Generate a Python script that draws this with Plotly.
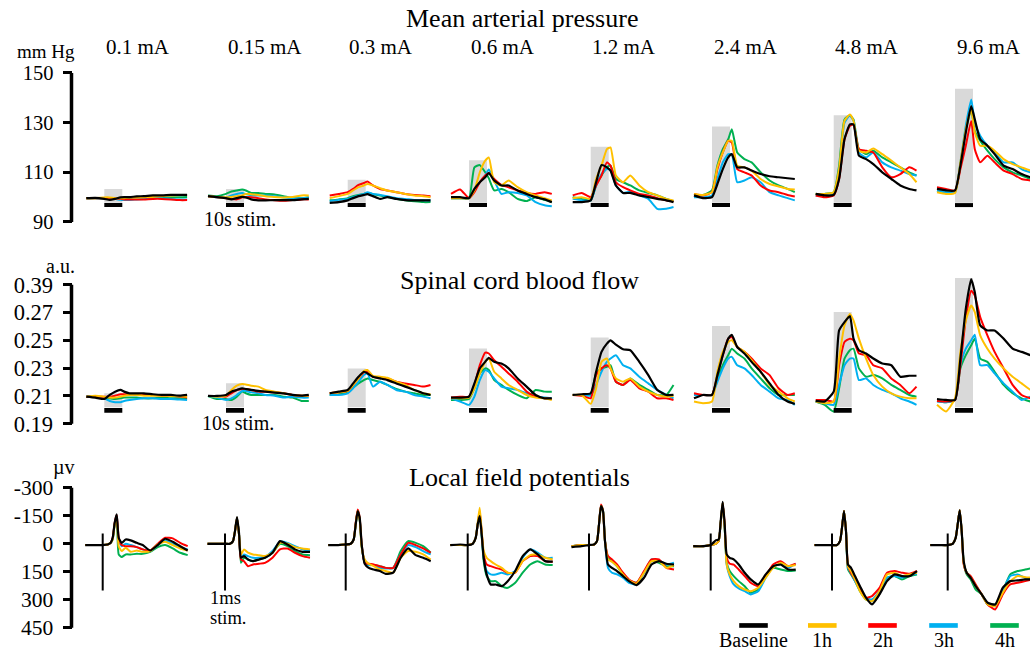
import plotly.graph_objects as go

W, H = 1030, 654
FONT = "Liberation Serif"

# ---------------- data ----------------
currents = ["0.1 mA", "0.15 mA", "0.3 mA", "0.6 mA", "1.2 mA", "2.4 mA", "4.8 mA", "9.6 mA"]
series_names = ["Baseline", "1h", "2h", "3h", "4h"]
series_colors = ["#000000", "#FFC000", "#FF0000", "#00B0F0", "#00B050"]

# Mean arterial pressure (mm Hg), time in s relative to stimulus onset
map_time_s = [-10, -5, 0, 3, 6, 9, 11, 14, 18, 22, 27, 32, 37, 42, 46]
map_baseline = [
    [99.6, 99.7, 99.3, 98.9, 99.3, 99.9, 100.0, 100.0, 100.3, 100.4, 100.7, 100.7, 100.9, 100.9, 100.9],
    [100.4, 100.0, 99.6, 99.1, 99.6, 100.1, 99.9, 99.1, 98.7, 98.7, 98.8, 98.8, 98.8, 99.1, 99.3],
    [97.7, 98.0, 98.7, 99.6, 100.4, 100.9, 101.2, 100.4, 99.3, 100.0, 99.3, 98.8, 98.7, 98.7, 98.7],
    [100.0, 100.0, 99.6, 103.3, 106.0, 108.0, 109.7, 106.7, 104.7, 104.7, 102.7, 101.3, 100.0, 99.1, 98.0],
    [98.0, 98.0, 98.7, 106.0, 112.9, 112.0, 110.7, 104.7, 101.7, 101.7, 100.7, 100.0, 99.3, 98.7, 98.0],
    [100.7, 99.6, 100.0, 105.3, 111.3, 116.0, 117.3, 112.0, 112.0, 110.7, 109.3, 108.4, 108.0, 107.6, 107.3],
    [101.3, 100.7, 100.9, 107.3, 123.3, 129.3, 129.3, 116.7, 115.3, 113.3, 110.0, 107.3, 104.7, 103.3, 102.7],
    [103.3, 102.7, 102.7, 112.7, 126.0, 136.7, 131.3, 123.3, 120.7, 117.3, 112.7, 111.3, 109.3, 108.0, 107.3],
]
map_1h = [
    [99.6, 99.6, 99.9, 99.9, 99.6, 99.6, 99.6, 99.9, 99.9, 100.0, 100.1, 100.4, 100.7, 100.9, 100.9],
    [100.4, 100.1, 100.0, 100.1, 100.4, 100.7, 101.3, 101.2, 100.9, 100.4, 100.1, 99.9, 100.1, 100.7, 100.7],
    [99.6, 100.4, 101.3, 102.7, 104.0, 104.7, 105.3, 104.7, 103.6, 102.7, 102.0, 101.3, 100.7, 100.4, 100.0],
    [99.6, 99.6, 99.6, 102.7, 110.0, 114.7, 116.0, 106.0, 104.7, 106.7, 104.0, 102.0, 100.7, 99.6, 98.7],
    [99.6, 100.0, 99.3, 107.3, 112.7, 119.3, 120.0, 108.7, 106.0, 108.7, 104.7, 102.0, 100.7, 99.3, 98.7],
    [101.3, 100.9, 102.0, 112.0, 118.0, 122.7, 122.7, 112.7, 112.0, 110.7, 107.3, 105.3, 104.3, 103.3, 103.1],
    [101.3, 101.3, 102.0, 111.3, 130.7, 133.3, 130.7, 118.7, 118.0, 119.6, 117.3, 114.7, 112.0, 109.3, 106.0],
    [102.0, 101.3, 101.7, 114.0, 127.3, 135.3, 126.0, 120.7, 120.7, 118.7, 115.3, 113.3, 112.0, 110.7, 110.0],
]
map_2h = [
    [99.6, 99.6, 99.6, 99.6, 99.6, 99.3, 99.1, 99.1, 99.1, 99.1, 99.3, 99.3, 99.1, 98.8, 98.8],
    [100.4, 100.0, 99.6, 99.3, 99.1, 99.9, 100.0, 100.0, 99.6, 99.1, 98.7, 98.5, 98.8, 99.1, 99.1],
    [100.7, 101.3, 102.0, 103.3, 104.9, 105.7, 106.3, 104.7, 103.3, 102.7, 102.0, 101.3, 100.9, 100.7, 100.4],
    [101.3, 103.1, 99.6, 102.0, 106.0, 108.7, 109.7, 107.3, 104.9, 104.0, 102.7, 101.7, 101.3, 102.0, 101.3],
    [100.7, 101.7, 100.0, 104.7, 108.7, 114.0, 112.7, 106.0, 104.0, 102.7, 101.3, 100.7, 99.6, 98.7, 98.3],
    [101.3, 100.7, 102.0, 111.3, 118.0, 122.7, 122.0, 111.3, 110.0, 108.7, 104.7, 102.7, 102.0, 100.9, 100.3],
    [100.7, 100.0, 100.7, 107.3, 123.3, 128.7, 129.3, 119.3, 118.7, 118.0, 112.0, 108.0, 109.3, 112.0, 110.7],
    [104.0, 103.3, 102.7, 111.3, 120.7, 130.7, 119.3, 114.0, 116.7, 114.0, 110.7, 109.3, 107.3, 106.7, 106.0],
]
map_3h = [
    [99.6, 99.6, 99.6, 99.6, 99.3, 98.9, 98.9, 98.9, 99.1, 99.3, 99.6, 99.6, 99.3, 99.1, 99.1],
    [100.4, 100.0, 99.9, 100.7, 101.3, 101.7, 101.2, 100.7, 100.7, 100.7, 100.4, 99.9, 99.6, 99.6, 99.9],
    [98.4, 98.9, 99.3, 100.0, 100.7, 101.3, 102.0, 101.3, 100.9, 100.4, 99.6, 99.3, 98.9, 98.7, 98.7],
    [99.6, 99.6, 99.6, 102.7, 106.0, 108.7, 111.1, 106.7, 101.3, 102.0, 101.7, 100.7, 98.0, 96.7, 96.3],
    [99.3, 98.7, 98.7, 104.7, 109.3, 111.3, 110.9, 104.7, 101.7, 102.3, 100.7, 99.3, 95.3, 95.3, 96.0],
    [100.0, 100.0, 100.7, 107.3, 114.0, 117.3, 117.3, 106.0, 106.7, 108.0, 106.0, 102.0, 100.7, 99.6, 98.7],
    [100.7, 100.7, 101.3, 110.0, 130.0, 132.9, 130.7, 118.0, 116.0, 118.0, 114.0, 112.0, 110.7, 109.3, 108.7],
    [102.7, 102.0, 102.0, 114.0, 128.7, 139.3, 130.0, 124.7, 120.7, 118.0, 114.0, 114.0, 111.3, 110.0, 109.3],
]
map_4h = [
    [99.6, 99.6, 99.6, 99.6, 99.6, 99.6, 99.7, 99.7, 99.9, 99.9, 99.9, 99.9, 100.0, 100.0, 100.1],
    [100.7, 100.4, 101.3, 102.3, 102.7, 103.1, 102.7, 101.7, 101.7, 101.3, 101.1, 100.4, 99.6, 99.6, 100.0],
    [98.7, 99.1, 99.6, 100.4, 100.9, 101.3, 101.7, 101.2, 100.7, 100.0, 99.3, 98.7, 98.3, 98.0, 98.0],
    [99.6, 99.6, 99.6, 112.0, 112.9, 110.0, 107.6, 102.7, 103.3, 102.0, 99.3, 98.4, 100.0, 98.9, 98.0],
    [100.0, 99.3, 98.7, 104.7, 108.7, 112.0, 112.7, 107.3, 106.0, 104.7, 102.7, 101.7, 100.7, 99.3, 98.3],
    [100.7, 100.9, 102.7, 112.7, 119.3, 123.3, 127.3, 118.0, 115.3, 114.0, 110.0, 106.7, 104.7, 103.3, 102.0],
    [101.3, 101.3, 102.0, 112.7, 131.3, 132.9, 131.3, 119.3, 117.3, 118.7, 116.0, 114.0, 112.0, 110.0, 108.7],
    [102.7, 102.0, 102.0, 113.3, 127.3, 135.3, 126.7, 122.7, 118.7, 115.3, 112.0, 110.0, 108.7, 107.3, 106.7],
]
map_box_top = [103.3, 103.3, 107.0, 114.9, 120.3, 128.4, 133.0, 143.6]
map_box_bottom = 97.7
map_bar = [96.0, 97.6]
map_tickvals = [90, 110, 130, 150]
map_ticktext = ["90", "110", "130", "150"]

# Spinal cord blood flow (a.u.), same time base
scbf_baseline = [
    [0.2095, 0.2088, 0.2078, 0.2107, 0.2131, 0.2143, 0.2131, 0.2119, 0.2119, 0.2119, 0.2112, 0.2107, 0.2107, 0.2102, 0.2107],
    [0.2100, 0.2100, 0.2107, 0.2131, 0.2143, 0.2155, 0.2150, 0.2143, 0.2136, 0.2131, 0.2124, 0.2119, 0.2107, 0.2102, 0.2107],
    [0.2119, 0.2131, 0.2143, 0.2190, 0.2238, 0.2274, 0.2262, 0.2238, 0.2226, 0.2214, 0.2190, 0.2167, 0.2143, 0.2119, 0.2107],
    [0.2088, 0.2088, 0.2095, 0.2190, 0.2298, 0.2345, 0.2374, 0.2345, 0.2333, 0.2298, 0.2226, 0.2167, 0.2107, 0.2083, 0.2083],
    [0.2107, 0.2112, 0.2119, 0.2274, 0.2417, 0.2476, 0.2500, 0.2469, 0.2436, 0.2429, 0.2345, 0.2250, 0.2143, 0.2107, 0.2107],
    [0.2083, 0.2107, 0.2107, 0.2250, 0.2393, 0.2512, 0.2540, 0.2452, 0.2405, 0.2345, 0.2274, 0.2190, 0.2107, 0.2060, 0.2043],
    [0.2064, 0.2060, 0.2131, 0.2571, 0.2631, 0.2674, 0.2512, 0.2429, 0.2405, 0.2369, 0.2333, 0.2321, 0.2238, 0.2245, 0.2245],
    [0.2078, 0.2071, 0.2071, 0.2369, 0.2726, 0.2940, 0.2845, 0.2607, 0.2571, 0.2571, 0.2512, 0.2440, 0.2417, 0.2393, 0.2381],
]
scbf_1h = [
    [0.2095, 0.2102, 0.2095, 0.2088, 0.2088, 0.2095, 0.2102, 0.2107, 0.2107, 0.2102, 0.2102, 0.2102, 0.2100, 0.2098, 0.2095],
    [0.2100, 0.2095, 0.2102, 0.2143, 0.2174, 0.2186, 0.2183, 0.2174, 0.2167, 0.2143, 0.2131, 0.2119, 0.2107, 0.2102, 0.2102],
    [0.2119, 0.2126, 0.2136, 0.2179, 0.2226, 0.2279, 0.2286, 0.2245, 0.2238, 0.2231, 0.2202, 0.2179, 0.2143, 0.2119, 0.2112],
    [0.2083, 0.2083, 0.2088, 0.2155, 0.2262, 0.2345, 0.2369, 0.2274, 0.2226, 0.2179, 0.2143, 0.2107, 0.2088, 0.2083, 0.2071],
    [0.2107, 0.2107, 0.2043, 0.2155, 0.2345, 0.2369, 0.2298, 0.2226, 0.2202, 0.2226, 0.2167, 0.2131, 0.2107, 0.2095, 0.2102],
    [0.2060, 0.2048, 0.2060, 0.2274, 0.2417, 0.2488, 0.2500, 0.2452, 0.2417, 0.2357, 0.2274, 0.2179, 0.2131, 0.2083, 0.2060],
    [0.2060, 0.2048, 0.2060, 0.2369, 0.2607, 0.2690, 0.2643, 0.2512, 0.2369, 0.2250, 0.2167, 0.2119, 0.2095, 0.2083, 0.2083],
    [0.2036, 0.1988, 0.2083, 0.2417, 0.2643, 0.2750, 0.2702, 0.2536, 0.2440, 0.2369, 0.2298, 0.2238, 0.2190, 0.2143, 0.2131],
]
scbf_2h = [
    [0.2095, 0.2095, 0.2095, 0.2095, 0.2102, 0.2112, 0.2112, 0.2112, 0.2107, 0.2107, 0.2107, 0.2102, 0.2102, 0.2095, 0.2088],
    [0.2100, 0.2100, 0.2095, 0.2119, 0.2143, 0.2150, 0.2150, 0.2143, 0.2131, 0.2131, 0.2126, 0.2119, 0.2107, 0.2102, 0.2100],
    [0.2119, 0.2126, 0.2136, 0.2179, 0.2226, 0.2269, 0.2274, 0.2238, 0.2231, 0.2226, 0.2202, 0.2190, 0.2179, 0.2167, 0.2179],
    [0.2088, 0.2095, 0.2095, 0.2179, 0.2321, 0.2412, 0.2405, 0.2357, 0.2310, 0.2262, 0.2202, 0.2131, 0.2095, 0.2083, 0.2078],
    [0.2107, 0.2102, 0.2083, 0.2250, 0.2298, 0.2321, 0.2298, 0.2202, 0.2179, 0.2214, 0.2155, 0.2131, 0.2083, 0.2083, 0.2071],
    [0.2119, 0.2107, 0.2107, 0.2250, 0.2393, 0.2512, 0.2524, 0.2452, 0.2417, 0.2369, 0.2298, 0.2250, 0.2155, 0.2107, 0.2119],
    [0.2071, 0.2071, 0.2060, 0.2321, 0.2488, 0.2512, 0.2500, 0.2405, 0.2393, 0.2321, 0.2298, 0.2226, 0.2179, 0.2119, 0.2167],
    [0.2064, 0.2060, 0.2071, 0.2321, 0.2655, 0.2857, 0.2821, 0.2667, 0.2536, 0.2417, 0.2298, 0.2179, 0.2107, 0.2083, 0.2071],
]
scbf_3h = [
    [0.2095, 0.2095, 0.2083, 0.2064, 0.2055, 0.2055, 0.2064, 0.2071, 0.2078, 0.2083, 0.2083, 0.2078, 0.2078, 0.2074, 0.2071],
    [0.2100, 0.2088, 0.2071, 0.2083, 0.2107, 0.2136, 0.2136, 0.2126, 0.2119, 0.2107, 0.2102, 0.2088, 0.2095, 0.2088, 0.2088],
    [0.2107, 0.2107, 0.2119, 0.2155, 0.2202, 0.2250, 0.2262, 0.2167, 0.2202, 0.2179, 0.2143, 0.2131, 0.2107, 0.2095, 0.2083],
    [0.2083, 0.2060, 0.2036, 0.2095, 0.2214, 0.2286, 0.2274, 0.2226, 0.2167, 0.2155, 0.2143, 0.2119, 0.2095, 0.2088, 0.2083],
    [0.2107, 0.2107, 0.2102, 0.2179, 0.2274, 0.2345, 0.2369, 0.2393, 0.2321, 0.2298, 0.2238, 0.2190, 0.2143, 0.2107, 0.2083],
    [0.2107, 0.2107, 0.2107, 0.2202, 0.2298, 0.2369, 0.2381, 0.2321, 0.2298, 0.2250, 0.2179, 0.2131, 0.2083, 0.2071, 0.2036],
    [0.2060, 0.2048, 0.2036, 0.2179, 0.2321, 0.2369, 0.2369, 0.2214, 0.2226, 0.2179, 0.2143, 0.2119, 0.2083, 0.2060, 0.2036],
    [0.2060, 0.2055, 0.2071, 0.2321, 0.2440, 0.2500, 0.2540, 0.2321, 0.2321, 0.2262, 0.2190, 0.2131, 0.2071, 0.2095, 0.2107],
]
scbf_4h = [
    [0.2095, 0.2095, 0.2088, 0.2083, 0.2078, 0.2083, 0.2088, 0.2088, 0.2088, 0.2083, 0.2083, 0.2088, 0.2083, 0.2083, 0.2078],
    [0.2100, 0.2078, 0.2078, 0.2071, 0.2095, 0.2131, 0.2119, 0.2107, 0.2107, 0.2107, 0.2107, 0.2095, 0.2088, 0.2064, 0.2064],
    [0.2107, 0.2112, 0.2131, 0.2160, 0.2190, 0.2214, 0.2226, 0.2214, 0.2202, 0.2179, 0.2150, 0.2131, 0.2119, 0.2107, 0.2107],
    [0.2071, 0.2071, 0.2078, 0.2155, 0.2262, 0.2298, 0.2286, 0.2214, 0.2179, 0.2143, 0.2107, 0.2083, 0.2143, 0.2131, 0.2131],
    [0.2107, 0.2107, 0.2112, 0.2262, 0.2298, 0.2310, 0.2321, 0.2202, 0.2179, 0.2226, 0.2179, 0.2143, 0.2107, 0.2107, 0.2179],
    [0.2107, 0.2107, 0.2107, 0.2226, 0.2321, 0.2393, 0.2440, 0.2405, 0.2369, 0.2298, 0.2226, 0.2155, 0.2107, 0.2107, 0.2107],
    [0.2060, 0.2036, 0.1988, 0.2155, 0.2369, 0.2429, 0.2440, 0.2298, 0.2238, 0.2250, 0.2226, 0.2179, 0.2143, 0.2107, 0.2095],
    [0.2064, 0.2055, 0.2071, 0.2298, 0.2393, 0.2464, 0.2512, 0.2369, 0.2345, 0.2274, 0.2179, 0.2119, 0.2083, 0.2060, 0.2055],
]
scbf_box_top = [0.2119, 0.2191, 0.2298, 0.2441, 0.2520, 0.2603, 0.2703, 0.2948]
scbf_box_bottom = 0.2019
scbf_bar = [0.1979, 0.2014]
scbf_tickvals = [0.19, 0.21, 0.23, 0.25, 0.27, 0.29]
scbf_ticktext = ["0.19", "0.21", "0.23", "0.25", "0.27", "0.39"]

# Local field potentials (uV, negative up), time in ms relative to stimulus
lfp_time_ms = [-3.5, -1.5, 0, 1, 1.6, 2.0, 2.4, 2.8, 3.2, 3.8, 4.6, 5.6, 6.8, 8, 9.5, 11, 12.5, 14, 15.5, 17]
lfp_baseline = [
    [7, 7, 7, 4, -5, -32, -113, -157, -32, -5, -23, -18, -5, 7, 36, 7, -27, -11, 13, 36],
    [0, 0, 0, 0, -14, -68, -143, -59, 75, 66, 84, 93, 84, 75, 48, -14, 4, 30, 43, 43],
    [7, 7, 4, 0, -23, -104, -175, -139, 4, 107, 129, 138, 146, 161, 155, 75, 25, 61, 75, 93],
    [7, 4, 7, 0, -32, -104, -148, -50, 75, 164, 218, 218, 227, 200, 146, 66, 30, 57, 93, 96],
    [18, 13, 7, 4, -14, -104, -202, -175, -14, 111, 129, 146, 173, 200, 221, 182, 111, 93, 107, 111],
    [13, 13, 7, -18, -23, -121, -225, -104, 57, 75, 84, 111, 155, 191, 218, 164, 120, 111, 138, 138],
    [7, 7, 7, 7, -14, -86, -175, -68, 111, 129, 173, 227, 289, 325, 271, 200, 164, 173, 173, 146],
    [7, 7, 7, 0, -32, -104, -179, -68, 93, 155, 182, 227, 271, 316, 325, 236, 200, 196, 191, 191],
]
lfp_1h = [
    [7, 7, 7, 4, -5, -23, -104, -136, 13, 39, 21, 43, 36, 43, 39, 4, -11, 7, 25, 36],
    [0, 0, 0, 0, -14, -68, -139, -50, 57, 30, 48, 57, 61, 66, 48, -5, 0, 18, 25, 30],
    [7, 7, 4, 0, -23, -104, -175, -130, 21, 84, 107, 120, 138, 146, 155, 75, 39, 43, 57, 84],
    [7, 7, 7, 0, -32, -113, -193, -68, 39, 75, 93, 111, 129, 155, 155, 93, 61, 57, 75, 84],
    [13, 7, 7, 4, -14, -104, -202, -175, -14, 84, 96, 120, 164, 196, 214, 155, 93, 93, 129, 114],
    [13, 13, 7, 0, -14, -113, -220, -86, 111, 164, 200, 227, 245, 254, 236, 182, 129, 102, 120, 114],
    [7, 7, 7, 7, -14, -86, -175, -68, 120, 146, 191, 254, 298, 307, 254, 164, 155, 173, 164, 155],
    [7, 7, 7, 0, -32, -104, -179, -68, 102, 155, 182, 227, 271, 325, 334, 263, 200, 173, 179, 182],
]
lfp_2h = [
    [7, 7, 7, 4, -5, -32, -113, -154, -32, 7, 13, 13, 18, 30, 36, 0, -32, -29, -5, 13],
    [0, 0, 0, 0, -14, -68, -139, -50, 84, 93, 120, 111, 107, 102, 75, 30, 25, 48, 66, 75],
    [7, 7, 4, 0, -23, -113, -184, -139, 4, 102, 107, 111, 120, 129, 129, 57, -5, 7, 25, 48],
    [7, 7, 7, 0, -32, -104, -175, -59, 57, 111, 120, 129, 138, 155, 155, 93, 66, 66, 93, 96],
    [13, 7, 7, 4, -14, -104, -211, -175, -14, 66, 84, 111, 155, 191, 209, 146, 84, 84, 129, 138],
    [13, 13, 7, 0, -14, -113, -220, -104, 75, 107, 111, 138, 173, 209, 227, 173, 111, 93, 120, 107],
    [7, 7, 7, 7, -14, -86, -175, -68, 120, 155, 191, 245, 289, 280, 236, 155, 146, 155, 161, 146],
    [7, 7, 7, 0, -32, -104, -179, -68, 111, 155, 173, 218, 271, 325, 352, 271, 218, 209, 200, 191],
]
lfp_3h = [
    [7, 7, 7, 4, -5, -29, -107, -143, -14, 13, 0, 7, 18, 30, 39, 7, -18, 0, 18, 30],
    [0, 0, 0, 0, -14, -68, -139, -50, 75, 57, 66, 75, 75, 71, 39, -11, -5, 13, 30, 39],
    [7, 7, 4, 0, -23, -104, -175, -130, 13, 102, 114, 114, 129, 132, 129, 57, 7, 18, 39, 57],
    [7, 7, 7, 0, -32, -104, -166, -50, 75, 146, 164, 164, 155, 164, 146, 75, 30, 48, 75, 75],
    [13, 7, 7, 4, -14, -104, -202, -175, -14, 129, 155, 164, 182, 209, 218, 155, 84, 89, 111, 102],
    [13, 13, 7, 0, -14, -113, -220, -86, 111, 173, 218, 239, 254, 271, 254, 182, 120, 111, 129, 107],
    [7, 7, 7, 7, -14, -86, -175, -68, 129, 155, 200, 245, 289, 298, 254, 182, 173, 182, 168, 161],
    [7, 7, 7, 0, -32, -104, -179, -68, 102, 155, 182, 227, 271, 325, 334, 254, 173, 164, 182, 186],
]
lfp_4h = [
    [7, 7, 7, 4, -5, -23, -104, -130, 57, 71, 57, 57, 54, 54, 43, 18, 7, 25, 48, 61],
    [0, 0, 0, 0, -14, -68, -139, -50, 102, 75, 84, 93, 84, 75, 48, 0, 13, 39, 57, 61],
    [7, 7, 4, 0, -23, -104, -175, -130, 13, 102, 114, 114, 120, 129, 129, 39, -14, -5, 13, 48],
    [7, 7, 7, 0, -32, -104, -157, -41, 93, 173, 200, 200, 227, 236, 209, 155, 111, 93, 111, 114],
    [13, 7, 7, 4, -14, -104, -202, -175, -14, 75, 93, 120, 164, 196, 209, 155, 93, 102, 120, 120],
    [13, 13, 7, 0, -14, -113, -220, -86, 102, 146, 173, 200, 227, 263, 245, 173, 129, 138, 146, 143],
    [7, 7, 7, 7, -14, -86, -175, -68, 138, 164, 200, 254, 298, 307, 263, 182, 173, 191, 173, 164],
    [7, 7, 7, 0, -32, -104, -179, -68, 102, 164, 191, 245, 271, 325, 325, 254, 164, 146, 138, 129],
]
lfp_stim_line = [-55, 250]
lfp_tickvals = [-300, -150, 0, 150, 300, 450]
lfp_ticktext = ["-300", "-150", "0", "150", "300", "450"]
stim_duration_s = 10

# ---------------- layout geometry (pixels) ----------------
anchors_12 = [104.3, 226, 347.7, 469, 590.7, 712, 833.7, 955]
anchors_3 = [102.7, 225, 345.7, 467.7, 589, 710.7, 832, 947.7]
label_centers = [138, 264.7, 381, 502.5, 624, 745.5, 867, 988.8]
AXIS_X = 71.5

rows = [
    dict(time=map_time_s, series=[map_baseline, map_1h, map_2h, map_3h, map_4h],
         anchors=anchors_12, pps=1.8, ytop=73.3, ybot=223.0, vtop=150, vbot=90,
         tickvals=map_tickvals, ticktext=map_ticktext, pad=(14, 14), tfs=20.5),
    dict(time=map_time_s, series=[scbf_baseline, scbf_1h, scbf_2h, scbf_3h, scbf_4h],
         anchors=anchors_12, pps=1.8, ytop=286.0, ybot=425.7, vtop=0.29, vbot=0.19,
         tickvals=scbf_tickvals, ticktext=scbf_ticktext, pad=(22, 16), tfs=22.5),
    dict(time=lfp_time_ms, series=[lfp_baseline, lfp_1h, lfp_2h, lfp_3h, lfp_4h],
         anchors=anchors_3, pps=5.0, ytop=490.0, ybot=630.7, vtop=-300, vbot=450,
         tickvals=lfp_tickvals, ticktext=lfp_ticktext, pad=(14, 10), tfs=21.5),
]

fig = go.Figure()
layout = dict(width=W, height=H, margin=dict(l=0, r=0, t=0, b=0),
              paper_bgcolor="white", plot_bgcolor="white", showlegend=False,
              font=dict(family=FONT, color="black", size=20))
shapes = []
annotations = []

draw_order = [4, 3, 2, 1, 0]

for r, row in enumerate(rows):
    yname = "yaxis" if r == 0 else f"yaxis{r + 1}"
    yref = "y" if r == 0 else f"y{r + 1}"
    k_v = (row["vbot"] - row["vtop"]) / (row["ybot"] - row["ytop"])
    top_px = row["ytop"] - row["pad"][0]
    bot_px = row["ybot"] + row["pad"][1]
    yrange = [row["vtop"] + (bot_px - row["ytop"]) * k_v, row["vtop"] + (top_px - row["ytop"]) * k_v]
    layout[yname] = dict(
        domain=[1 - bot_px / H, 1 - top_px / H], range=yrange, autorange=False,
        anchor="free", position=AXIS_X / W, showgrid=False, zeroline=False, showline=False,
        tickvals=row["tickvals"], ticktext=row["ticktext"], ticks="outside", ticklen=9,
        tickwidth=3, tickcolor="black", ticklabelstandoff=5,
        tickfont=dict(family=FONT, size=row["tfs"], color="black"),
    )
    shapes.append(dict(type="line", xref="paper", yref=yref, x0=AXIS_X / W, x1=AXIS_X / W,
                       y0=row["tickvals"][0], y1=row["tickvals"][-1],
                       line=dict(color="black", width=3.5)))
    t = row["time"]
    pps = row["pps"]
    for i in range(8):
        k = r * 8 + i + 1
        xname = "xaxis" if k == 1 else f"xaxis{k}"
        xref = "x" if k == 1 else f"x{k}"
        a = row["anchors"][i]
        L = a + t[0] * pps - 4
        R = min(a + t[-1] * pps + 4, W)
        layout[xname] = dict(domain=[L / W, R / W], range=[(L - a) / pps, (R - a) / pps],
                             anchor=yref, visible=False, showgrid=False, zeroline=False)
        if r < 2:
            box_top = map_box_top if r == 0 else scbf_box_top
            box_bot = map_box_bottom if r == 0 else scbf_box_bottom
            bar = map_bar if r == 0 else scbf_bar
            shapes.append(dict(type="rect", xref=xref, yref=yref, x0=0, x1=stim_duration_s,
                               y0=box_bot, y1=box_top[i], fillcolor="#D9D9D9",
                               line=dict(width=0), layer="below"))
            shapes.append(dict(type="rect", xref=xref, yref=yref, x0=0, x1=stim_duration_s,
                               y0=bar[0], y1=bar[1], fillcolor="black", line=dict(width=0)))
        else:
            shapes.append(dict(type="line", xref=xref, yref=yref, x0=0, x1=0,
                               y0=lfp_stim_line[0], y1=lfp_stim_line[1],
                               line=dict(color="black", width=2)))
        for s in draw_order:
            fig.add_trace(go.Scatter(
                x=t, y=row["series"][s][i], mode="lines", name=series_names[s],
                line=dict(color=series_colors[s], width=2.2 if s == 0 else 2,
                          shape="spline", smoothing=0.5),
                xaxis=xref, yaxis=yref, showlegend=False, hoverinfo="skip"))


def txt(text, x, y, size=20, xanchor="center"):
    annotations.append(dict(text=text, x=x / W, y=1 - y / H, xref="paper", yref="paper",
                            showarrow=False, xanchor=xanchor, yanchor="middle",
                            font=dict(family=FONT, size=size, color="black")))


# section titles
txt("Mean arterial pressure", 522, 19, 26)
txt("Spinal cord blood flow", 519, 282, 26)
txt("Local field potentials", 519, 480, 26)
# current labels
for i, c in enumerate(currents):
    txt(c, label_centers[i], 47, 21)
# units
txt("mm Hg", 77, 52, 19, "right")
txt("a.u.", 77, 267, 20, "right")
txt("µv", 77, 470, 20, "right")
# stimulus notes
txt("10s stim.", 240, 220, 20)
txt("10s stim.", 238, 425, 20)
txt("1ms", 208, 601, 18.5, "left")
txt("stim.", 208, 621, 18.5, "left")

# legend
legend_centers = [753.5, 822.3, 882.5, 943.5, 1004.5]
for s, cx in enumerate(legend_centers):
    shapes.append(dict(type="rect", xref="paper", yref="paper",
                       x0=(cx - 14.3) / W, x1=(cx + 14.3) / W,
                       y0=1 - 630.7 / H, y1=1 - 626.0 / H,
                       fillcolor=series_colors[s], line=dict(width=0)))
    txt(series_names[s], cx, 643, 20)

layout["shapes"] = shapes
layout["annotations"] = annotations
fig.update_layout(**layout)
fig.write_html("out.html", config={"displayModeBar": False},
               post_script="document.body.style.margin='0';document.body.style.overflow='hidden';")
